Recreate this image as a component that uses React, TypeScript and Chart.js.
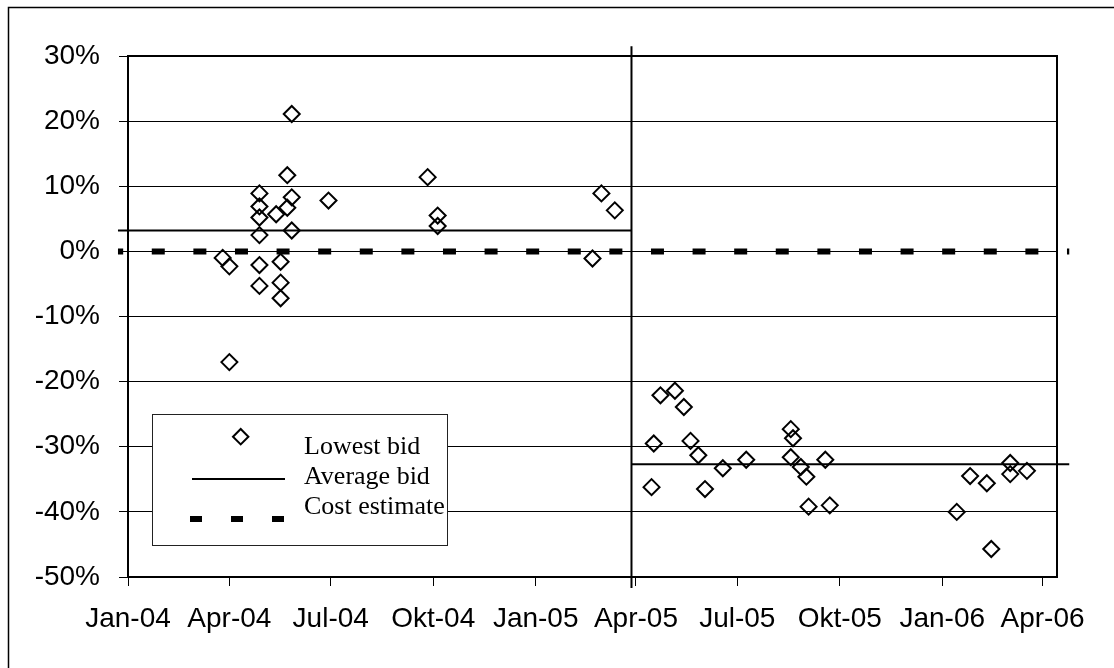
import React, { useEffect, useRef } from 'react';
import { Chart, registerables } from 'chart.js';

Chart.register(...registerables);

// x axis: quarterly date ticks
const tickDates = ['2004-01-01', '2004-04-01', '2004-07-01', '2004-10-01', '2005-01-01', '2005-04-01', '2005-07-01', '2005-10-01', '2006-01-01', '2006-04-01'];
const tickLabels = ['Jan-04', 'Apr-04', 'Jul-04', 'Okt-04', 'Jan-05', 'Apr-05', 'Jul-05', 'Okt-05', 'Jan-06', 'Apr-06'];
const axisStart = '2004-01-01';
const axisEnd = '2006-04-14';

// lowest bid per tender, % vs cost estimate
const bidDates = [
  '2004-03-26', '2004-04-01', '2004-04-01', '2004-04-28', '2004-04-28', '2004-04-28', '2004-04-28', '2004-04-28', '2004-04-28',
  '2004-05-13', '2004-05-17', '2004-05-17', '2004-05-17', '2004-05-23', '2004-05-23', '2004-05-27', '2004-05-27', '2004-05-27',
  '2004-06-29', '2004-09-26', '2004-10-05', '2004-10-05', '2005-02-21', '2005-03-01', '2005-03-13',
  '2005-04-15', '2005-04-17', '2005-04-23', '2005-05-06', '2005-05-14', '2005-05-20', '2005-05-27', '2005-06-02', '2005-06-18',
  '2005-07-09', '2005-08-18', '2005-08-20', '2005-08-18', '2005-08-27', '2005-09-01', '2005-09-03', '2005-09-18', '2005-09-22',
  '2006-01-14', '2006-01-26', '2006-02-10', '2006-02-14', '2006-03-03', '2006-03-03', '2006-03-18',
];
const bidValues = [
  -1.0, -2.3, -17.0, 8.9, 6.9, 5.2, 2.5, -2.1, -5.3,
  5.7, -1.6, -4.8, -7.2, 11.7, 6.7, 21.1, 8.3, 3.2,
  7.8, 11.4, 5.5, 3.9, -1.1, 8.9, 6.3,
  -36.2, -29.5, -22.1, -21.4, -23.9, -29.1, -31.3, -36.5, -33.3,
  -32.0, -27.3, -28.7, -31.6, -33.1, -34.6, -39.2, -32.0, -39.0,
  -40.0, -34.5, -35.6, -45.7, -32.5, -34.2, -33.7,
];

// average bid before / after the split, cost estimate baseline
const averageBid = [3.2, -32.7];
const costEstimate = 0;
const splitDate = '2005-03-28';
const splitRange = [31.5, -51.7];
const lineStart = '2003-12-23';
const lineEnd = '2006-04-25';

const toDay = (s: string) => {
  const [y, m, d] = s.split('-').map(Number);
  return (Date.UTC(y, m - 1, d) - Date.UTC(2004, 0, 1)) / 86400000;
};

const sansFont = "'Liberation Sans', Arial, sans-serif";
const serifFont = "'Liberation Serif', 'Times New Roman', serif";

const framePlugin = {
  id: 'frame',
  beforeDraw(chart: any) {
    const ctx = chart.ctx;
    ctx.save();
    ctx.fillStyle = '#fff';
    ctx.fillRect(0, 0, chart.width, chart.height);
    ctx.strokeStyle = '#000';
    ctx.lineWidth = 1.5;
    ctx.beginPath();
    ctx.moveTo(8.5, chart.height);
    ctx.lineTo(8.5, 7.5);
    ctx.lineTo(chart.width, 7.5);
    ctx.stroke();
    ctx.restore();
  },
  afterDraw(chart: any) {
    const ctx = chart.ctx;
    const a = chart.chartArea;
    ctx.save();
    ctx.strokeStyle = '#000';
    ctx.lineWidth = 2;
    ctx.beginPath();
    ctx.moveTo(a.left, a.top);
    ctx.lineTo(a.right, a.top);
    ctx.lineTo(a.right, a.bottom);
    ctx.stroke();

    // legend box
    ctx.fillStyle = '#fff';
    ctx.fillRect(152, 414, 295, 131);
    ctx.lineWidth = 1;
    ctx.strokeStyle = '#222';
    ctx.strokeRect(152.5, 414.5, 295, 131);

    ctx.strokeStyle = '#000';
    ctx.lineWidth = 2;
    ctx.beginPath();
    ctx.moveTo(233, 436.7);
    ctx.lineTo(240.7, 429);
    ctx.lineTo(248.4, 436.7);
    ctx.lineTo(240.7, 444.4);
    ctx.closePath();
    ctx.stroke();

    ctx.beginPath();
    ctx.moveTo(192, 479);
    ctx.lineTo(285, 479);
    ctx.stroke();

    ctx.lineWidth = 6;
    ctx.setLineDash([12, 29]);
    ctx.beginPath();
    ctx.moveTo(190, 519);
    ctx.lineTo(285, 519);
    ctx.stroke();
    ctx.setLineDash([]);

    ctx.fillStyle = '#000';
    ctx.font = `26px ${serifFont}`;
    ctx.textBaseline = 'alphabetic';
    ctx.fillText('Lowest bid', 304, 454);
    ctx.fillText('Average bid', 304, 484);
    ctx.fillText('Cost estimate', 304, 514);
    ctx.restore();
  },
};

const App: React.FC = () => {
  const canvasRef = useRef<HTMLCanvasElement | null>(null);
  const chartRef = useRef<Chart | null>(null);

  useEffect(() => {
    if (!canvasRef.current) return;
    const ctx = canvasRef.current.getContext('2d');
    if (!ctx) return;

    const bids = bidDates.map((d, i) => ({ x: toDay(d), y: bidValues[i] }));
    const split = toDay(splitDate);
    const start = toDay(lineStart);
    const end = toDay(lineEnd);
    const ticks = tickDates.map(toDay);

    const lineBase = {
      showLine: true,
      pointRadius: 0,
      pointHoverRadius: 0,
      borderColor: '#000',
      borderWidth: 2,
      clip: false as const,
      tension: 0,
    };

    chartRef.current = new Chart(ctx, {
      type: 'scatter',
      data: {
        datasets: [
          {
            label: 'Lowest bid',
            data: bids,
            pointStyle: 'rectRot',
            pointRadius: 8,
            pointBorderWidth: 2,
            borderColor: '#000',
            backgroundColor: 'rgba(0,0,0,0)',
            showLine: false,
          },
          {
            ...lineBase,
            label: 'Average bid',
            data: [{ x: start, y: averageBid[0] }, { x: split, y: averageBid[0] }],
          },
          {
            ...lineBase,
            label: 'Average bid 2',
            data: [{ x: split, y: averageBid[1] }, { x: end, y: averageBid[1] }],
          },
          {
            ...lineBase,
            label: 'Split',
            data: [{ x: split, y: splitRange[0] }, { x: split, y: splitRange[1] }],
          },
          {
            ...lineBase,
            label: 'Cost estimate',
            data: [{ x: start, y: costEstimate }, { x: end, y: costEstimate }],
            borderWidth: 6,
            borderDash: [13, 28.6],
            borderDashOffset: 7.8,
            borderCapStyle: 'butt',
          },
        ],
      },
      options: {
        responsive: false,
        animation: false,
        events: [],
        layout: { padding: { left: 0, top: 56, right: 57, bottom: 0 } },
        plugins: { legend: { display: false }, tooltip: { enabled: false } },
        scales: {
          x: {
            type: 'linear',
            min: toDay(axisStart),
            max: toDay(axisEnd),
            afterBuildTicks: (scale: any) => {
              scale.ticks = ticks.map((v) => ({ value: v }));
            },
            afterFit: (scale: any) => {
              scale.height = 91;
            },
            grid: { drawOnChartArea: false, drawTicks: true, tickLength: 9, color: '#000', lineWidth: 1 },
            border: { display: true, color: '#000', width: 2 },
            ticks: {
              autoSkip: false,
              maxRotation: 0,
              padding: 16,
              color: '#000',
              font: { family: sansFont, size: 28 },
              callback: (_v: any, i: number) => tickLabels[i],
            },
          },
          y: {
            type: 'linear',
            min: -50,
            max: 30,
            afterFit: (scale: any) => {
              scale.width = 128;
            },
            grid: { drawOnChartArea: true, drawTicks: true, tickLength: 9, color: '#000', lineWidth: 1 },
            border: { display: true, color: '#000', width: 2 },
            ticks: {
              stepSize: 10,
              padding: 19,
              color: '#000',
              font: { family: sansFont, size: 28 },
              callback: (v: any) => `${Math.round(Number(v))}%`,
            },
          },
        },
      },
      plugins: [framePlugin],
    });

    return () => {
      if (chartRef.current) chartRef.current.destroy();
      chartRef.current = null;
    };
  }, []);

  return (
    <div style={{ position: 'absolute', left: 0, top: 0, width: 1114, height: 668 }}>
      <canvas ref={canvasRef} width={1114} height={668} style={{ display: 'block' }} />
    </div>
  );
};

export default App;
